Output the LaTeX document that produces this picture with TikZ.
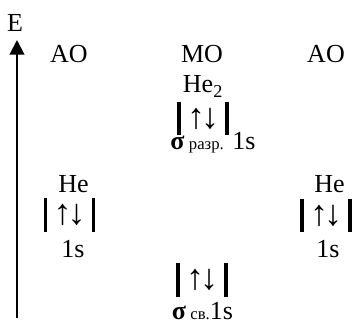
\documentclass[tikz,border=0pt]{standalone}
\usepackage{fontspec}
\setmainfont{Liberation Serif}
\usepackage{tikz}
\usetikzlibrary{arrows.meta}

\begin{document}
\begin{tikzpicture}[
    x=0.75pt,
    y=-0.75pt,
    >={Triangle[length=11pt, width=11pt]},
    lbl/.style={inner sep=0pt, anchor=base, font=\fontsize{19.5}{23}\selectfont},
    cell/.style={inner sep=0pt, minimum width=35.6pt, minimum height=25pt, font=\fontsize{27}{30}\selectfont},
    bar/.style={line width=2.3pt}
]
\useasboundingbox (0,0) rectangle (353,324);
% Energy axis
\node[lbl] (E) at (15,32) {E};
\coordinate (axbot) at (17,318);
\coordinate (axtop) at (17,40);
\draw[->, line width=1.5pt] (axbot) -- (axtop);
% Headers
\node[lbl] (aoL) at (69,63) {AO};
\node[lbl] (mo) at (202,63) {MO};
\node[lbl] (aoR) at (326,63) {AO};
% Antibonding MO
\node[lbl] (he2) at (203,93) {He\textsubscript{2}};
\node[cell] (moA) at (203,118.5) {↑\kern-3pt↓};
\node[lbl] (sigA) at (213,150) {\textbf{σ}\,{\fontsize{12.5}{14}\selectfont разр.} 1s};
% Atomic orbitals
\node[lbl] (heL) at (73.5,192) {He};
\node[cell] (aoLc) at (69.5,215) {↑\kern-3pt↓};
\node[lbl] (sL) at (73,257) {1s};
\node[lbl] (heR) at (329.5,192) {He};
\node[cell] (aoRc) at (326,215.5) {↑\kern-3pt↓};
\node[lbl] (sR) at (328,257) {1s};
% Bonding MO
\node[cell] (moB) at (202,280) {↑\kern-3pt↓};
\node[lbl, text depth=0pt] (sigB) at (202.5,319.5) {\textbf{σ}\,{\fontsize{12.5}{14}\selectfont св.}1s};
% Cell walls
\foreach \c in {moA, aoLc, aoRc, moB} {
    \draw[bar] (\c.north west) -- (\c.south west);
    \draw[bar] (\c.north east) -- (\c.south east);
}
\end{tikzpicture}
\end{document}
